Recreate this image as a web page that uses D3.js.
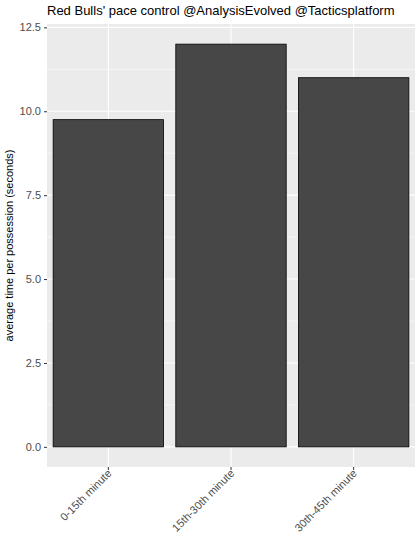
<!DOCTYPE html>
<html><head><meta charset="utf-8">
<script src="https://cdn.jsdelivr.net/npm/d3@7"></script>
<style>body{margin:0;background:#fff}text{font-family:"Liberation Sans",Arial,sans-serif}</style>
</head><body><svg id="c" width="420" height="560"></svg>
<script>
const categories=["0-15th minute","15th-30th minute","30th-45th minute"];
const values=[9.75,12.0,11.0];
const yTicks=[0,2.5,5.0,7.5,10.0,12.5];
const title="Red Bulls' pace control @AnalysisEvolved @Tacticsplatform";
const yLabel="average time per possession (seconds)";

const svg=d3.select("#c");
const L=47,R=415,T=24,B=467;
const y=d3.scaleLinear().domain([-0.6,12.6]).range([B,T]);
const x=d3.scaleBand().domain(categories).range([L,R]).paddingInner(0.1).paddingOuter(0.05);
svg.append("rect").attr("x",L).attr("y",T).attr("width",R-L).attr("height",B-T).attr("fill","#ebebeb");
const minor=[1.25,3.75,6.25,8.75,11.25];
svg.selectAll(".mi").data(minor).join("line").attr("x1",L).attr("x2",R).attr("y1",d=>y(d)).attr("y2",d=>y(d)).attr("stroke","#fff").attr("stroke-width",0.5);
svg.selectAll(".ma").data(yTicks).join("line").attr("x1",L).attr("x2",R).attr("y1",d=>y(d)).attr("y2",d=>y(d)).attr("stroke","#fff").attr("stroke-width",1.1);
svg.selectAll(".mx").data(categories).join("line").attr("x1",d=>x(d)+x.bandwidth()/2).attr("x2",d=>x(d)+x.bandwidth()/2).attr("y1",T).attr("y2",B).attr("stroke","#fff").attr("stroke-width",1.1);
svg.selectAll(".bar").data(values).join("rect")
 .attr("x",(d,i)=>x(categories[i])).attr("width",x.bandwidth())
 .attr("y",d=>y(d)).attr("height",d=>y(0)-y(d)).attr("fill","#474747").attr("stroke","#000").attr("stroke-width",0.8);
const ya=svg.append("g").attr("transform",`translate(${L},0)`).call(d3.axisLeft(y).tickValues(yTicks).tickFormat(d3.format(".1f")).tickSize(3).tickPadding(3));
ya.select(".domain").remove();ya.selectAll("line").attr("stroke","#333");
ya.selectAll("text").attr("font-size",11).attr("fill","#4d4d4d");
const xa=svg.append("g").attr("transform",`translate(0,${B})`).call(d3.axisBottom(x).tickSize(3));
xa.select(".domain").remove();xa.selectAll("line").attr("stroke","#333");
xa.selectAll("text").attr("font-size",11).attr("fill","#4d4d4d").attr("text-anchor","end")
 .attr("dy",0).attr("transform","translate(4,7) rotate(-45)").attr("y",0).attr("x",0);
svg.append("text").attr("x",L).attr("y",15).attr("font-size",13).attr("fill","#000").text(title);
svg.append("text").attr("transform",`translate(13,${(T+B)/2}) rotate(-90)`).attr("text-anchor","middle").attr("font-size",11).attr("fill","#000").text(yLabel);
</script></body></html>
